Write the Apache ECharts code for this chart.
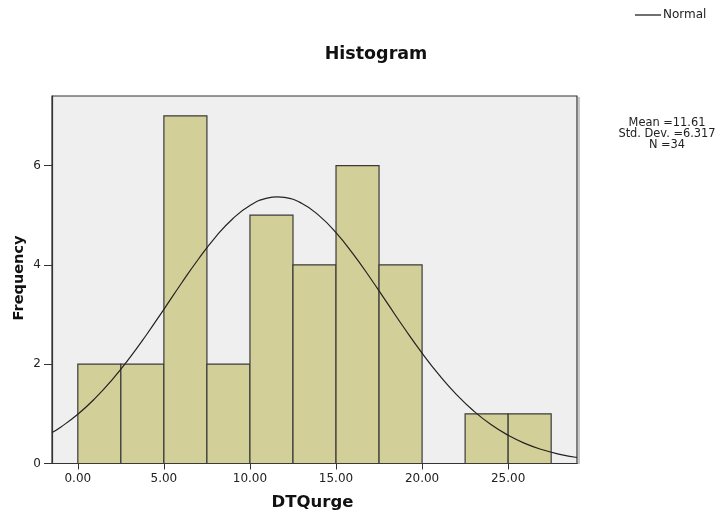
<!DOCTYPE html>
<html>
<head>
<meta charset="utf-8">
<script src="https://cdn.jsdelivr.net/npm/echarts@6/dist/echarts.min.js"></script>
<style>
  html, body { margin: 0; padding: 0; background: #ffffff; }
  #chart { width: 725px; height: 515px; }
</style>
</head>
<body>
<div id="chart"></div>
<script>
// Histogram bins of DTQurge (width 2.5) and their frequencies
const binStarts = [0, 2.5, 5, 7.5, 10, 12.5, 15, 17.5, 20, 22.5, 25];
const binWidth = 2.5;
const frequencies = [2, 2, 7, 2, 5, 4, 6, 4, 0, 1, 1];

// Fitted normal curve (scaled to counts), sampled along the x axis
const curveX = [-1.5, -1, 0, 1, 2, 3, 4, 5, 6, 7, 8, 9, 10, 11, 11.61, 12, 13, 14, 15, 16, 17, 18, 19, 20, 21, 22, 23, 24, 25, 26, 27, 28, 29];
const curveY = [0.623, 0.732, 0.991, 1.310, 1.688, 2.120, 2.598, 3.105, 3.619, 4.113, 4.559, 4.929, 5.196, 5.343, 5.368, 5.358, 5.240, 4.997, 4.648, 4.216, 3.730, 3.218, 2.708, 2.222, 1.778, 1.388, 1.056, 0.784, 0.568, 0.401, 0.276, 0.185, 0.121];

// Tick positions and summary text
const xTicks = [0, 5, 10, 15, 20, 25];
const yTicks = [0, 2, 4, 6];
const statsLines = ['Mean =11.61', 'Std. Dev. =6.317', 'N =34'];

const barData = binStarts.map((s, i) => [s, s + binWidth, frequencies[i]]).filter(d => d[2] > 0);
const lineData = curveX.map((x, i) => [x, curveY[i]]);

const font = '"DejaVu Sans", Verdana, sans-serif';
const chart = echarts.init(document.getElementById('chart'));

chart.setOption({
  animation: false,
  backgroundColor: '#ffffff',
  graphic: [
    {
      type: 'text',
      x: 376, y: 54,
      style: {
        text: 'Histogram',
        align: 'center', verticalAlign: 'middle',
        font: 'bold 17.5px ' + font,
        fill: '#111'
      }
    },
    {
      // y-axis title, rotated to read bottom-to-top
      type: 'text',
      x: 19, y: 278,
      rotation: Math.PI / 2,
      style: {
        text: 'Frequency',
        align: 'center', verticalAlign: 'middle',
        font: 'bold 14.5px ' + font,
        fill: '#111'
      }
    },
    {
      type: 'text',
      x: 667, y: 118,
      style: {
        text: statsLines.join('\n'),
        align: 'center',
        font: '11.4px ' + font,
        fill: '#222',
        lineHeight: 10.7
      }
    },
    {
      // soft shadow along the right edge of the plot frame
      type: 'rect',
      shape: { x: 578, y: 97, width: 2, height: 367 },
      style: { fill: '#c8c8c8' },
      z: 0
    }
  ],
  legend: {
    left: 630, top: 4,
    itemWidth: 26, itemHeight: 2, itemGap: 4,
    data: [{ name: 'Normal', icon: 'path://M0,0 L26,0 L26,1.3 L0,1.3 Z' }],
    textStyle: { fontFamily: font, fontSize: 12, color: '#222', padding: [0, 0, 0, -3] }
  },
  grid: {
    left: 52, top: 96, width: 525, height: 367.5,
    outerBoundsMode: 'none', containLabel: false,
    show: true, backgroundColor: '#efefef', borderColor: '#333', borderWidth: 1.2
  },
  xAxis: {
    type: 'value', min: -1.5, max: 29,
    name: 'DTQurge', nameLocation: 'middle', nameGap: 31,
    nameTextStyle: { fontFamily: font, fontSize: 16.5, fontWeight: 'bold', color: '#111', padding: [0, 4, 0, 0] },
    axisLine: { show: true, onZero: false, lineStyle: { color: '#333', width: 1.2 } },
    axisTick: { show: true, length: 6, customValues: xTicks, lineStyle: { color: '#333' } },
    axisLabel: { customValues: xTicks, formatter: v => v.toFixed(2), fontFamily: font, fontSize: 12, color: '#222', margin: 9 },
    splitLine: { show: false }
  },
  yAxis: {
    type: 'value', min: 0, max: 7.4,
    axisLine: { show: true, onZero: false, lineStyle: { color: '#333', width: 1.2 } },
    axisTick: { show: true, length: 8, customValues: yTicks, lineStyle: { color: '#333' } },
    axisLabel: { customValues: yTicks, fontFamily: font, fontSize: 12, color: '#222', margin: 11 },
    splitLine: { show: false }
  },
  series: [
    {
      type: 'custom',
      name: 'bins',
      data: barData,
      encode: { x: [0, 1], y: 2 },
      renderItem: function (params, api) {
        const p0 = api.coord([api.value(0), 0]);
        const p1 = api.coord([api.value(1), api.value(2)]);
        return {
          type: 'rect',
          shape: { x: p0[0], y: p1[1], width: p1[0] - p0[0], height: p0[1] - p1[1] },
          style: { fill: '#d3cf98', stroke: '#3a3a3a', lineWidth: 1.2 }
        };
      },
      z: 2
    },
    {
      type: 'line',
      name: 'Normal',
      data: lineData,
      smooth: true,
      showSymbol: false,
      lineStyle: { color: '#222', width: 1.2 },
      itemStyle: { color: '#222' },
      z: 3
    }
  ]
});
</script>
</body>
</html>
